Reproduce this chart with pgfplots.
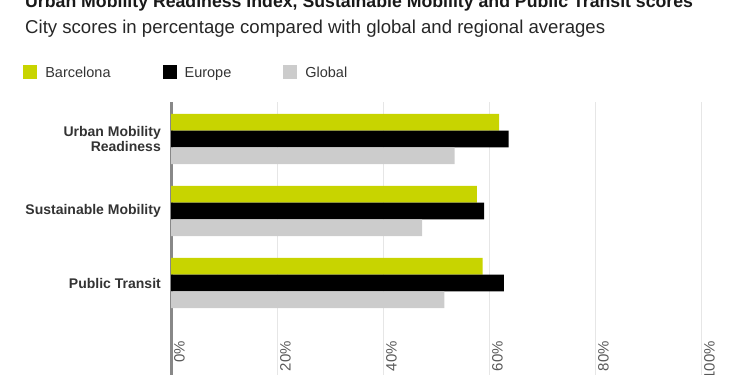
\documentclass[border=0pt]{standalone}
\usepackage{pgfplots}
\pgfplotsset{compat=1.18}
\usepackage{fontspec}
\setmainfont{Liberation Sans}
\definecolor{bcn}{HTML}{C8D400}
\definecolor{glob}{HTML}{CCCCCC}
\definecolor{axgray}{HTML}{888888}
\definecolor{gridc}{HTML}{E6E6E6}
\begin{document}
\begin{tikzpicture}
\path[use as bounding box] (0pt,0pt) rectangle (750pt,-375pt);
\clip (0pt,0pt) rectangle (750pt,-375pt);
\node[anchor=base west, font=\fontsize{17.7}{20}\selectfont\bfseries, text=black!90, inner sep=0pt] at (25pt,-7pt) {Urban Mobility Readiness Index, Sustainable Mobility and Public Transit scores};
\node[anchor=base west, font=\fontsize{18.6}{21}\selectfont, text=black!85, inner sep=0pt] at (25pt,-33pt) {City scores in percentage compared with global and regional averages};
\begin{axis}[
  at={(171pt,-375pt)}, anchor=south west,
  scale only axis, width=530pt, height=273pt, clip=false,
  xmin=0, xmax=100, ymin=-0.514, ymax=3.278, y dir=reverse,
  axis line style={draw=none}, major tick length=0pt,
  xtick={20,40,60,80,100}, xticklabels={},
  xmajorgrids, grid style={color=gridc, line width=1pt},
  extra x ticks={0}, extra x tick labels={},
  extra x tick style={grid style={color=axgray, line width=3pt}},
  ytick={0,1,2},
  yticklabels={{Urban Mobility\\Readiness},{Sustainable Mobility},{Public Transit}},
  yticklabel style={align=right, font=\fontsize{14}{12.5}\selectfont\bfseries, text=black!80, inner sep=0pt, xshift=-10pt},
  xbar, bar width=0.232,
  legend columns=-1,
  legend image code/.code={\fill[#1] (0pt,-6pt) rectangle (14pt,8pt);},
  legend style={at={(axis description cs:-0.279,1.106)}, anchor=west, draw=none, fill=none, inner sep=0pt,
    font=\fontsize{14.5}{16}\selectfont, text=black!80,
    /tikz/every odd column/.append style={column sep=6pt},
    /tikz/every even column/.append style={column sep=50pt}},
]
\addplot[fill=bcn, draw=none, bar shift=-0.232] coordinates {(61.9,0) (57.7,1) (58.8,2)};
\addplot[fill=black, draw=none, bar shift=0] coordinates {(63.7,0) (59.1,1) (62.8,2)};
\addplot[fill=glob, draw=none, bar shift=0.232] coordinates {(53.5,0) (47.4,1) (51.6,2)};
\legend{Barcelona,Europe,Global}
\pgfplotsinvokeforeach{0,20,40,60,80,100}{
  \node[rotate=90, anchor=north east, font=\fontsize{15}{18}\selectfont, text=black!65, inner sep=3pt] at (axis cs:#1,2.764) {#1\%};
}
\end{axis}
\end{tikzpicture}
\end{document}
